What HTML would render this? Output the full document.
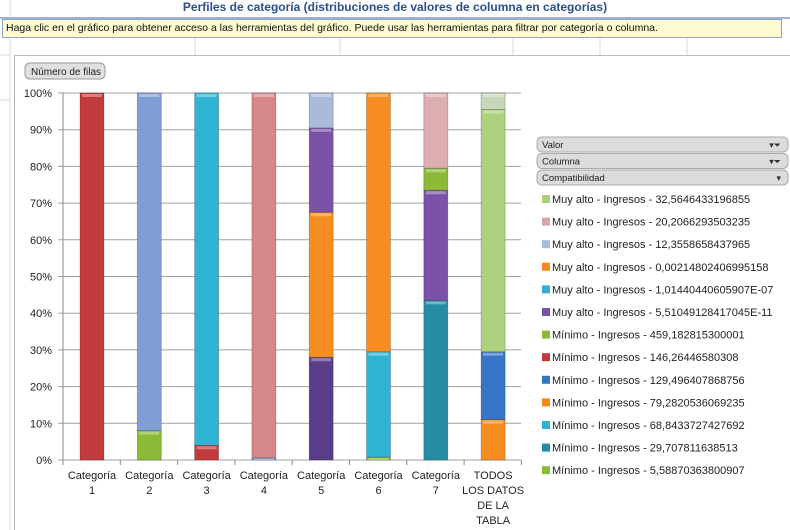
<!DOCTYPE html>
<html><head><meta charset="utf-8"><style>
body{margin:0;width:790px;height:530px;overflow:hidden;background:#fff;font-family:"Liberation Sans",sans-serif;position:relative}
.t{position:absolute;left:0;top:0;width:790px;height:17px;text-align:center;font-size:12px;font-weight:bold;color:#2a4f8f;border-bottom:2px solid #9db3d6}
.y{position:absolute;left:2px;top:19px;width:775px;height:17px;background:#fdfbcf;border:1px solid #8fa5c8;font-size:10.5px;line-height:17px;padding-left:3px;color:#111}
</style></head><body>
<svg width="790" height="530" style="position:absolute;left:0;top:0" font-family="Liberation Sans, sans-serif">
<g stroke="#d8d8d8" stroke-width="1">
<line x1="10" y1="0" x2="10" y2="530"/><line x1="195" y1="38" x2="195" y2="55"/><line x1="340" y1="38" x2="340" y2="55"/><line x1="513" y1="38" x2="513" y2="55"/><line x1="600" y1="38" x2="600" y2="55"/><line x1="687" y1="38" x2="687" y2="55"/>
<line x1="0" y1="55" x2="10" y2="55"/><line x1="0" y1="100" x2="10" y2="100"/>
</g>
<rect x="14.5" y="55.5" width="780" height="480" fill="#fff" stroke="#bbb"/>
<rect x="25" y="63" width="80" height="16" rx="5" fill="#e0e0e0" stroke="#999"/>
<text x="31" y="75" font-size="10" fill="#222">Número de filas</text>
<g id="g"></g>
</svg>
<div class="t">Perfiles de categoría (distribuciones de valores de columna en categorías)</div>
<div class="y">Haga clic en el gráfico para obtener acceso a las herramientas del gráfico. Puede usar las herramientas para filtrar por categoría o columna.</div>
<script>
(function(){
const g=document.getElementById('g');let s='';
const T0=93,B0=460,H=B0-T0;const Y=p=>B0-p*H/100;
for(let i=0;i<=10;i++){const y=Y(i*10);s+=`<line x1="58" x2="521" y1="${y}" y2="${y}" stroke="#a0a0a0"/><text x="52" y="${y+4}" font-size="11" text-anchor="end" fill="#222">${i*10}%</text>`;}
s+=`<line x1="63" x2="63" y1="${T0}" y2="${B0+5}" stroke="#888"/>`;
for(let k=0;k<=8;k++){const x=63+57.3*k;s+=`<line x1="${x}" x2="${x}" y1="${B0}" y2="${B0+5}" stroke="#888"/>`;}
const C={red:'#c23a3c',steel:'#7f9ed6',cyan:'#30b2d2',pink:'#d68889',dpur:'#5a3d88',orange:'#f78d20',pur:'#7b52a8',lb:'#a9bbdd',teal:'#258ca2',green:'#8aba36',lp:'#ddaeb0',lg:'#add27d',pale:'#c8d7bb',blue:'#3774c6',dblue:'#7f9ed6'};
const bars=[
[[0,100,'red']],
[[0,8,'green'],[8,100,'steel']],
[[0,4,'red'],[4,100,'cyan']],
[[0,.6,'dblue'],[.6,100,'pink']],
[[0,28,'dpur'],[28,67.5,'orange'],[67.5,90.5,'pur'],[90.5,100,'lb']],
[[0,.8,'green'],[.8,29.5,'cyan'],[29.5,100,'orange']],
[[0,43.5,'teal'],[43.5,73.5,'pur'],[73.5,79.5,'green'],[79.5,100,'lp']],
[[0,11,'orange'],[11,29.5,'blue'],[29.5,95.5,'lg'],[95.5,100,'pale']]];
bars.forEach((b,i)=>{const x=80+57.3*i;b.forEach(([a,c,k])=>{const y1=Y(c),y0=Y(a);s+=`<rect x="${x}" y="${y1}" width="24" height="${y0-y1}" fill="${C[k]}" stroke="rgba(0,0,0,.25)" stroke-width=".8"/><rect x="${x+2}" y="${y1+1}" width="20" height="${Math.max(0,Math.min(3,y0-y1-1))}" fill="rgba(255,255,255,.35)"/>`;});});
const labs=[['Categoría','1'],['Categoría','2'],['Categoría','3'],['Categoría','4'],['Categoría','5'],['Categoría','6'],['Categoría','7'],['TODOS','LOS DATOS','DE LA','TABLA']];
labs.forEach((l,i)=>{const x=92+57.3*i;l.forEach((t,j)=>s+=`<text x="${x}" y="${479+j*15}" font-size="11" text-anchor="middle" fill="#222">${t}</text>`);});
['Valor','Columna','Compatibilidad'].forEach((t,i)=>{const y=137+i*16.5;s+=`<rect x="537" y="${y}" width="251" height="15" rx="5" fill="#dcdcdc" stroke="#aaa"/><text x="542" y="${y+11}" font-size="9.5" fill="#222">${t}</text><text x="781" y="${y+11}" font-size="9" text-anchor="end" fill="#333">${i<2?'▾⏷':'▾'}</text>`;});
const L=[['#a8cc7a','Muy alto - Ingresos - 32,5646433196855'],['#d9a5a8','Muy alto - Ingresos - 20,2066293503235'],['#a9bbdd','Muy alto - Ingresos - 12,3558658437965'],['#f38a1e','Muy alto - Ingresos - 0,00214802406995158'],['#31b0d0','Muy alto - Ingresos - 1,01440440605907E-07'],['#7b52a8','Muy alto - Ingresos - 5,51049128417045E-11'],['#8cb83a','Mínimo - Ingresos - 459,182815300001'],['#c23a3c','Mínimo - Ingresos - 146,26446580308'],['#3774c6','Mínimo - Ingresos - 129,496407868756'],['#f38a1e','Mínimo - Ingresos - 79,2820536069235'],['#30b2d2','Mínimo - Ingresos - 68,8433727427692'],['#258ca2','Mínimo - Ingresos - 29,707811638513'],['#8aba36','Mínimo - Ingresos - 5,58870363800907']];
L.forEach(([c,t],i)=>{const y=199+i*22.6;s+=`<rect x="542" y="${y-4}" width="8" height="8" fill="${c}"/><text x="552" y="${y+4}" font-size="11" fill="#222">${t}</text>`;});
g.innerHTML=s;
})();
</script>
</body></html>
